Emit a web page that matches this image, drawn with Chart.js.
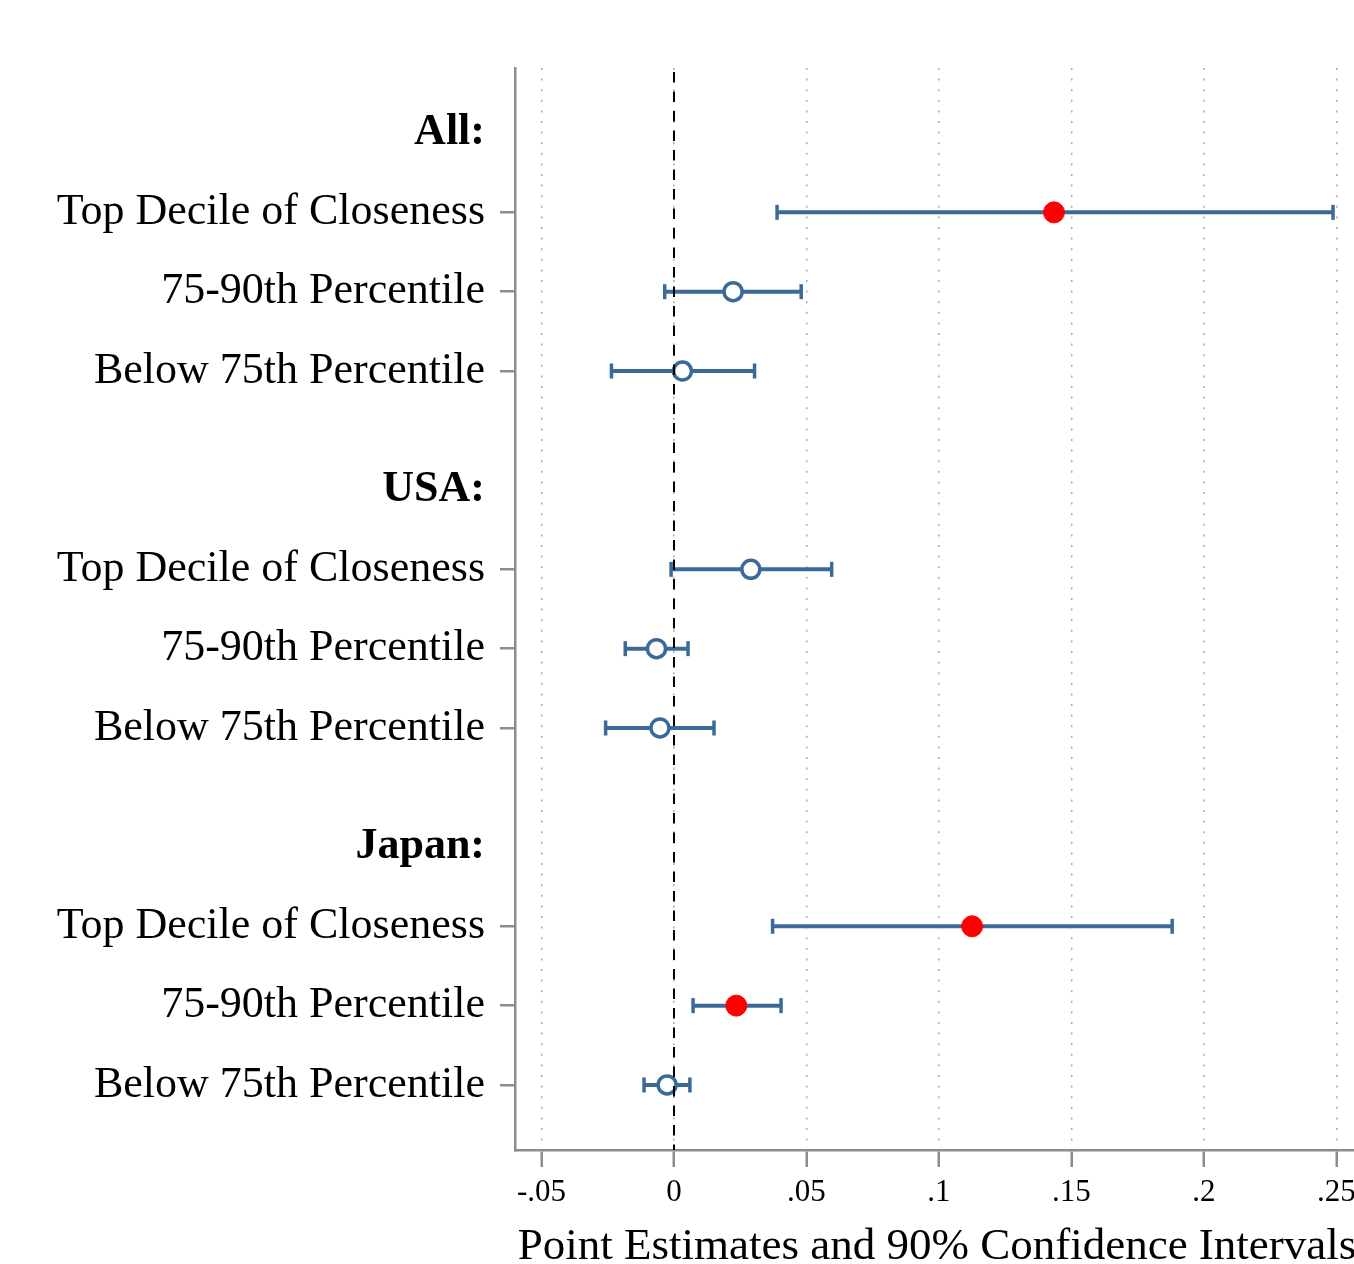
<!DOCTYPE html>
<html><head><meta charset="utf-8">
<script src="https://cdn.jsdelivr.net/npm/chart.js@4/dist/chart.umd.min.js"></script>
<style>html,body{margin:0;padding:0;background:#fff;overflow:hidden;width:1354px;height:1264px}#wrap{width:1380px;height:1264px;position:relative}</style>
</head><body><div id="wrap"><canvas id="c"></canvas></div>
<script>
// ---- data ----
const groups = ["All:", "USA:", "Japan:"];
const rowLabels = ["Top Decile of Closeness", "75-90th Percentile", "Below 75th Percentile"];

const estAll   = [0.1434, 0.0223, 0.0032];
const loAll    = [0.0389, -0.0035, -0.0236];
const hiAll    = [0.2487, 0.0480, 0.0304];

const estUSA   = [0.0290, -0.0066, -0.0053];
const loUSA    = [-0.0011, -0.0184, -0.0258];
const hiUSA    = [0.0595, 0.0053, 0.0151];

const estJapan = [0.1125, 0.0235, -0.0026];
const loJapan  = [0.0372, 0.0072, -0.0113];
const hiJapan  = [0.1880, 0.0404, 0.0060];

const xTickValues = [-0.05, 0, 0.05, 0.1, 0.15, 0.2, 0.25];
const xTickLabels = ["-.05", "0", ".05", ".1", ".15", ".2", ".25"];
const xTitle = "Point Estimates and 90% Confidence Intervals";

// ---- structure ----
const estimates = [estAll, estUSA, estJapan];
const lows = [loAll, loUSA, loJapan];
const highs = [hiAll, hiUSA, hiJapan];

const GROUP_STEP = 4.5;
const headerPos = g => g * GROUP_STEP;
const rowPos = (g, r) => g * GROUP_STEP + r + 1;

const tickMap = new Map();
groups.forEach((g, gi) => {
  tickMap.set(headerPos(gi), {text: g, header: true});
  rowLabels.forEach((r, ri) => tickMap.set(rowPos(gi, ri), {text: r, header: false}));
});
const yTickValues = [...tickMap.keys()];
const yMin = -0.82, yMax = groups.length * GROUP_STEP - GROUP_STEP + rowLabels.length + 0.82;

const serif = "'Liberation Serif','Times New Roman',serif";
const blue = '#3b6a9a';
const red = '#ff0000';
const axisGray = '#8c8c8c';

// estimates dataset
const estPoints = [], estBg = [], estBorder = [], estRadius = [], estBW = [];
estimates.forEach((arr, gi) => arr.forEach((v, ri) => {
  const sig = lows[gi][ri] > 0 || highs[gi][ri] < 0;
  estPoints.push({x: v, y: rowPos(gi, ri)});
  estBg.push(sig ? red : '#ffffff');
  estBorder.push(sig ? red : blue);
  estRadius.push(sig ? 10.5 : 9);
  estBW.push(sig ? 1 : 3.5);
}));

const datasets = [];
// zero reference line (drawn on top)
datasets.push({
  type: 'line', order: 0,
  data: [{x: 0, y: yMin}, {x: 0, y: yMax}],
  borderColor: '#000', borderWidth: 2, borderDash: [10.5, 9], borderDashOffset: -4,
  pointRadius: 0, fill: false
});
datasets.push({
  type: 'scatter', order: 1,
  data: estPoints,
  backgroundColor: estBg, borderColor: estBorder,
  pointBackgroundColor: estBg, pointBorderColor: estBorder,
  pointRadius: estRadius, pointBorderWidth: estBW, borderWidth: estBW, pointHoverRadius: estRadius
});
estimates.forEach((arr, gi) => arr.forEach((v, ri) => {
  const y = rowPos(gi, ri);
  datasets.push({
    type: 'line', order: 2,
    data: [{x: lows[gi][ri], y}, {x: highs[gi][ri], y}],
    borderColor: blue, borderWidth: 4,
    pointStyle: 'line', pointRotation: 90, pointRadius: 7.5,
    pointBorderColor: blue, pointBorderWidth: 3.5, pointHoverRadius: 7.5,
    fill: false
  });
}));

new Chart(document.getElementById('c'), {
  data: {datasets},
  options: {
    responsive: true, maintainAspectRatio: false, animation: false, events: [],
    layout: {padding: {top: 68, left: 0, right: 21, bottom: 0}},
    plugins: {legend: {display: false}, tooltip: {enabled: false}},
    scales: {
      x: {
        type: 'linear', position: 'bottom', min: -0.06, max: 0.2585,
        afterBuildTicks: s => { s.ticks = xTickValues.map(v => ({value: v})); },
        afterFit: s => { s.height = 114; s.paddingLeft = 0; s.paddingRight = 0; },
        ticks: {
          autoSkip: false, maxRotation: 0, padding: 7, color: '#000',
          font: {family: serif, size: 31},
          callback: v => xTickLabels[xTickValues.indexOf(v)]
        },
        grid: {
          color: '#a8a8a8', lineWidth: 1.5, drawTicks: true,
          tickLength: 17, tickWidth: 2.5, tickColor: axisGray, tickBorderDash: []
        },
        border: {display: true, color: axisGray, width: 2.5, dash: [2, 8.6]},
        title: {
          display: true, text: xTitle, color: '#000',
          font: {family: serif, size: 45, lineHeight: 0.75},
          padding: {top: 0, bottom: 0}
        }
      },
      y: {
        type: 'linear', position: 'left', reverse: true, min: yMin, max: yMax,
        afterBuildTicks: s => { s.ticks = yTickValues.map(v => ({value: v})); },
        afterFit: s => { s.width = 515; s.paddingTop = 0; s.paddingBottom = 0; s.paddingLeft = 0; s.paddingRight = 0; },
        ticks: {
          autoSkip: false, padding: 15, color: '#000',
          font: ctx => {
            const t = ctx.tick && tickMap.get(ctx.tick.value);
            return {family: serif, size: 44, weight: t && t.header ? 'bold' : 'normal'};
          },
          callback: v => (tickMap.get(v) || {text: ''}).text
        },
        grid: {
          drawOnChartArea: false, drawTicks: true, tickLength: 15, tickWidth: 2.5, lineWidth: 2.5,
          tickColor: ctx => {
            const t = ctx.tick && tickMap.get(ctx.tick.value);
            return t && t.header ? 'rgba(0,0,0,0)' : axisGray;
          }
        },
        border: {display: true, color: axisGray, width: 2.5}
      }
    }
  }
});
</script>
</body></html>
